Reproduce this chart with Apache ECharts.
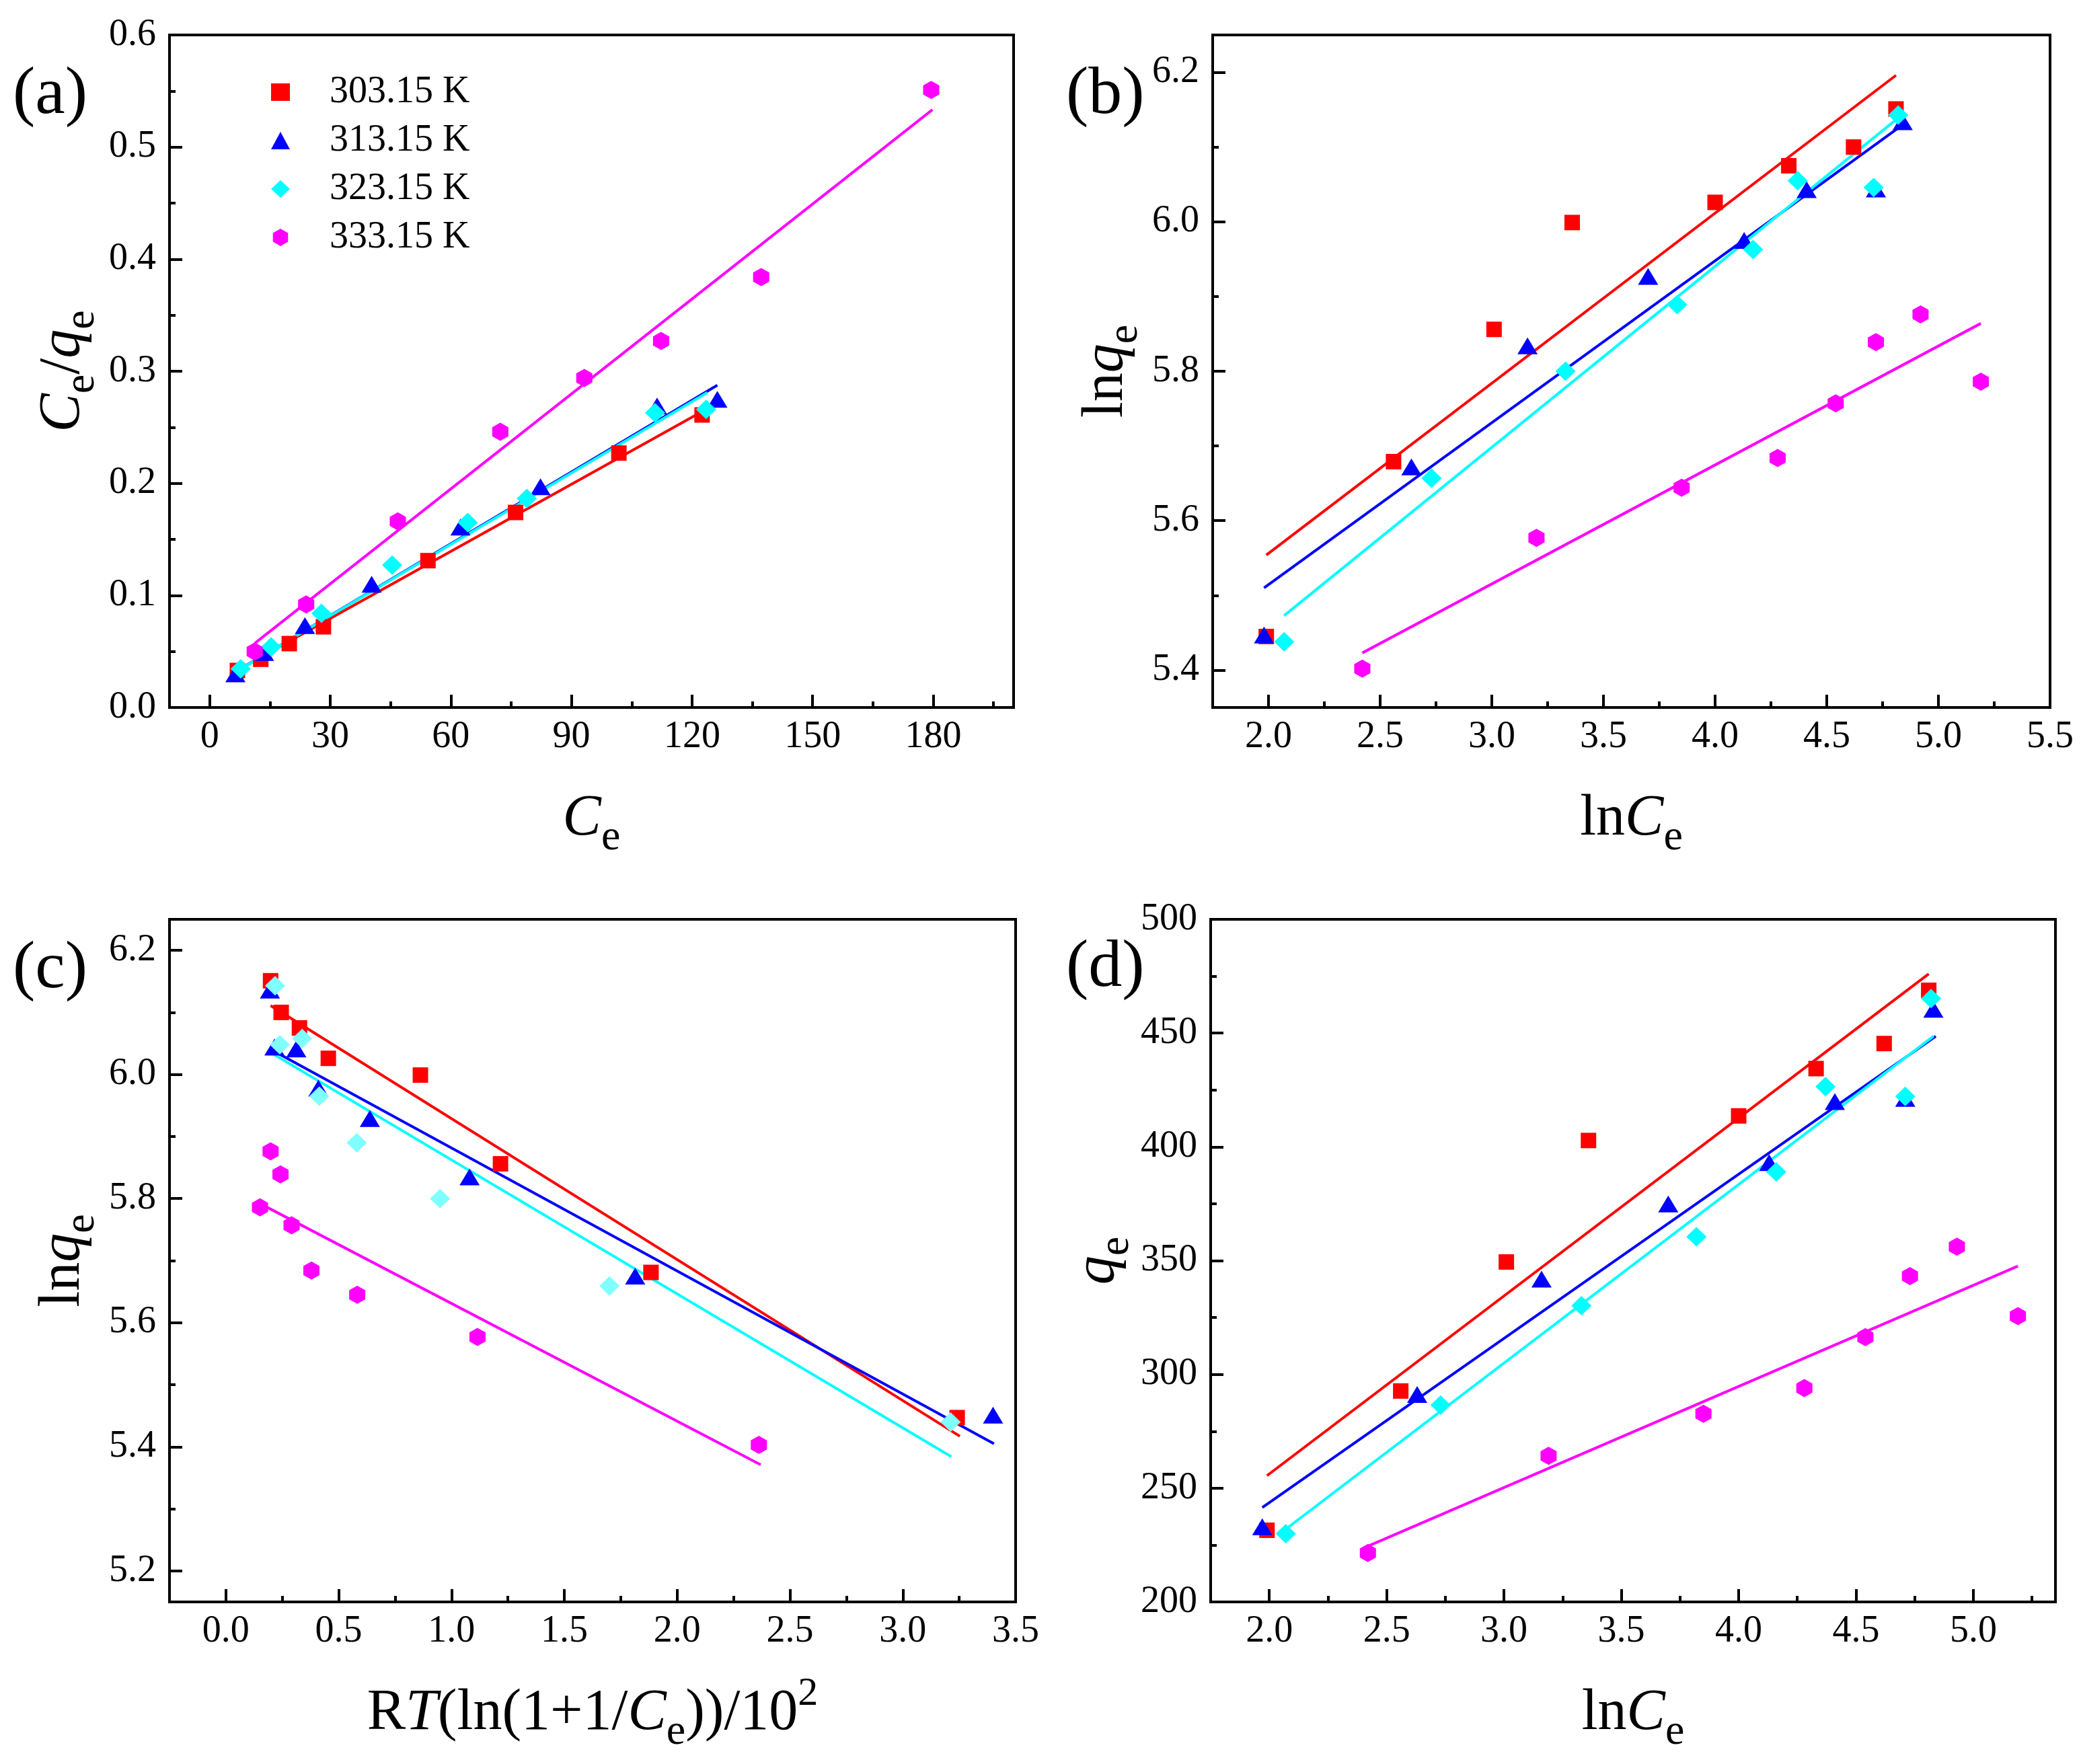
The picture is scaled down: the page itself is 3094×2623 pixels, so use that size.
<!DOCTYPE html>
<html>
<head>
<meta charset="utf-8">
<title>Isotherm fits</title>
<script src="https://cdn.jsdelivr.net/npm/echarts@6/dist/echarts.min.js"></script>
<style>
  html, body { margin: 0; padding: 0; background: #ffffff; }
  #chart { width: 3094px; height: 2623px; }
</style>
</head>
<body>
<div id="chart"></div>
<script>
const temps = ['303.15 K', '313.15 K', '323.15 K', '333.15 K'];

// (a) Ce vs Ce/qe
const aCe303 = [6.9, 12.7, 19.8, 28.3, 54.3, 76.1, 101.8, 122.5];
const aRatio303 = [0.033, 0.043, 0.057, 0.072, 0.131, 0.174, 0.227, 0.261];
const aCe313 = [6.4, 13.5, 23.7, 40.3, 62.4, 82.3, 111.3, 126.3];
const aRatio313 = [0.030, 0.049, 0.073, 0.110, 0.161, 0.197, 0.269, 0.275];
const aCe323 = [7.7, 15.3, 27.8, 45.4, 64.2, 78.9, 110.8, 123.5];
const aRatio323 = [0.0345, 0.054, 0.084, 0.127, 0.165, 0.1865, 0.263, 0.266];
const aCe333 = [11.2, 24.0, 46.8, 72.3, 93.2, 112.3, 137.2, 179.5];
const aRatio333 = [0.050, 0.092, 0.166, 0.246, 0.294, 0.327, 0.384, 0.551];
// fitted lines: [x0, y0, x1, y1]
const aFit303 = [6.5, 0.0325, 122.5, 0.264];
const aFit313 = [6.1, 0.031, 126.3, 0.2876];
const aFit323 = [7.7, 0.0345, 123.8, 0.281];
const aFit333 = [11.2, 0.0572, 179.8, 0.5333];

// (b) lnCe vs lnqe
const bLnC303 = [1.99, 2.56, 3.01, 3.36, 4.00, 4.33, 4.62, 4.81];
const bLnQ303 = [5.445, 5.679, 5.856, 5.999, 6.026, 6.075, 6.100, 6.151];
const bLnC313 = [1.98, 2.64, 3.16, 3.70, 4.13, 4.41, 4.72, 4.84];
const bLnQ313 = [5.447, 5.672, 5.834, 5.927, 5.975, 6.043, 6.044, 6.134];
const bLnC323 = [2.07, 2.73, 3.33, 3.83, 4.17, 4.37, 4.71, 4.82];
const bLnQ323 = [5.438, 5.657, 5.800, 5.889, 5.963, 6.055, 6.046, 6.143];
const bLnC333 = [2.42, 3.20, 3.85, 4.28, 4.54, 4.72, 4.92, 5.19];
const bLnQ333 = [5.402, 5.577, 5.644, 5.684, 5.757, 5.839, 5.876, 5.786];
const bFit303 = [1.99, 5.554, 4.81, 6.196];
const bFit313 = [1.98, 5.510, 4.85, 6.132];
const bFit323 = [2.07, 5.473, 4.82, 6.139];
const bFit333 = [2.42, 5.423, 5.19, 5.864];

// (c) RT ln(1+1/Ce)/10^2 vs lnqe
const cEps303 = [0.198, 0.245, 0.326, 0.454, 0.862, 1.217, 1.884, 3.241];
const cLnQ303 = [6.151, 6.100, 6.075, 6.026, 5.999, 5.856, 5.681, 5.447];
const cEps313 = [0.195, 0.215, 0.312, 0.410, 0.638, 1.080, 1.814, 3.400];
const cLnQ313 = [6.136, 6.044, 6.041, 5.978, 5.929, 5.835, 5.675, 5.451];
const cEps323 = [0.218, 0.239, 0.338, 0.414, 0.580, 0.949, 1.700, 3.212];
const cLnQ323 = [6.143, 6.048, 6.058, 5.965, 5.890, 5.800, 5.659, 5.440];
const cEps333 = [0.151, 0.198, 0.242, 0.291, 0.379, 0.582, 1.115, 2.362];
const cLnQ333 = [5.786, 5.876, 5.839, 5.757, 5.684, 5.645, 5.577, 5.403];
const cFit303 = [0.198, 6.111, 3.253, 5.417];
const cFit313 = [0.195, 6.041, 3.404, 5.405];
const cFit323 = [0.200, 6.035, 3.215, 5.384];
const cFit333 = [0.151, 5.792, 2.370, 5.371];

// (d) lnCe vs qe
const dLnC303 = [1.99, 2.56, 3.01, 3.36, 4.00, 4.33, 4.62, 4.81];
const dQ303 = [231.5, 292.7, 349.4, 402.8, 413.6, 434.4, 445.4, 468.8];
const dLnC313 = [1.97, 2.63, 3.16, 3.70, 4.13, 4.41, 4.71, 4.83];
const dQ313 = [233.0, 291.2, 341.9, 374.9, 393.1, 419.9, 421.3, 460.5];
const dLnC323 = [2.07, 2.73, 3.33, 3.82, 4.16, 4.37, 4.71, 4.82];
const dQ323 = [230.0, 286.5, 330.2, 360.5, 389.0, 426.5, 422.2, 465.2];
const dLnC333 = [2.42, 3.19, 3.85, 4.28, 4.54, 4.73, 4.93, 5.19];
const dQ333 = [221.5, 264.2, 282.7, 294.0, 316.4, 343.2, 356.1, 325.6];
const dFit303 = [1.99, 255.5, 4.81, 476.0];
const dFit313 = [1.97, 241.5, 4.84, 448.6];
const dFit323 = [2.07, 232.0, 4.83, 448.6];
const dFit333 = [2.42, 224.5, 5.19, 347.6];

// tick labels (major) and minor tick positions
const aXTicks = [0, 30, 60, 90, 120, 150, 180];
const aXMinor = [15, 45, 75, 105, 135, 165, 195];
const aYTicks = [0, 0.1, 0.2, 0.3, 0.4, 0.5, 0.6];
const aYMinor = [0.05, 0.15, 0.25, 0.35, 0.45, 0.55];
const bXTicks = [2.0, 2.5, 3.0, 3.5, 4.0, 4.5, 5.0, 5.5];
const bXMinor = [2.25, 2.75, 3.25, 3.75, 4.25, 4.75, 5.25];
const bYTicks = [5.4, 5.6, 5.8, 6.0, 6.2];
const bYMinor = [5.5, 5.7, 5.9, 6.1];
const cXTicks = [0.0, 0.5, 1.0, 1.5, 2.0, 2.5, 3.0, 3.5];
const cXMinor = [0.25, 0.75, 1.25, 1.75, 2.25, 2.75, 3.25];
const cYTicks = [5.2, 5.4, 5.6, 5.8, 6.0, 6.2];
const cYMinor = [5.3, 5.5, 5.7, 5.9, 6.1];
const dXTicks = [2.0, 2.5, 3.0, 3.5, 4.0, 4.5, 5.0];
const dXMinor = [2.25, 2.75, 3.25, 3.75, 4.25, 4.75, 5.25];
const dYTicks = [200, 250, 300, 350, 400, 450, 500];
const dYMinor = [225, 275, 325, 375, 425, 475];

const panelLabels = ['(a)', '(b)', '(c)', '(d)'];

const SERIF = '"Liberation Serif", "Times New Roman", serif';
const lineColors = ['#ff0000', '#0000ff', '#00ffff', '#ff00ff'];
const HEX = 'path://M0,-1L0.866,-0.5L0.866,0.5L0,1L-0.866,0.5L-0.866,-0.5Z';
const symbols = ['rect', 'triangle', 'diamond', HEX];
const symbolSizes = [[23, 23], [30, 25], [30, 29], [24, 27]];

const panels = [
    {
        grid: {left: 252, top: 52, width: 1255, height: 1000},
        x: {min: -10, max: 200, ticks: aXTicks, minor: aXMinor, digits: 0, name: '{i|C}{s|e}'},
        y: {min: 0, max: 0.6, ticks: aYTicks, minor: aYMinor, digits: 1, name: '{i|C}{s|e}{n|/}{i|q}{s|e}'},
        xs: [aCe303, aCe313, aCe323, aCe333],
        ys: [aRatio303, aRatio313, aRatio323, aRatio333],
        fits: [aFit303, aFit313, aFit323, aFit333],
        pointColors: ['#ff0000', '#0000ff', '#00ffff', '#ff00ff'],
        label: [19, 142]
    },
    {
        grid: {left: 1803, top: 52, width: 1245, height: 1000},
        x: {min: 1.75, max: 5.5, ticks: bXTicks, minor: bXMinor, digits: 1, name: '{n|ln}{i|C}{s|e}'},
        y: {min: 5.35, max: 6.25, ticks: bYTicks, minor: bYMinor, digits: 1, name: '{n|ln}{i|q}{s|e}'},
        xs: [bLnC303, bLnC313, bLnC323, bLnC333],
        ys: [bLnQ303, bLnQ313, bLnQ323, bLnQ333],
        fits: [bFit303, bFit313, bFit323, bFit333],
        pointColors: ['#ff0000', '#0000ff', '#00ffff', '#ff00ff'],
        label: [1585, 142]
    },
    {
        grid: {left: 252, top: 1367, width: 1258, height: 1015},
        x: {min: -0.25, max: 3.5, ticks: cXTicks, minor: cXMinor, digits: 1,
            name: '{n|R}{i|T}{n|(ln(1+1/}{i|C}{s|e}{n|))/10}{p|2}'},
        y: {min: 5.15, max: 6.25, ticks: cYTicks, minor: cYMinor, digits: 1, name: '{n|ln}{i|q}{s|e}'},
        xs: [cEps303, cEps313, cEps323, cEps333],
        ys: [cLnQ303, cLnQ313, cLnQ323, cLnQ333],
        fits: [cFit303, cFit313, cFit323, cFit333],
        pointColors: ['#ff0000', '#0000ff', '#80ffff', '#ff00ff'],
        label: [19, 1442]
    },
    {
        grid: {left: 1800, top: 1367, width: 1256, height: 1015},
        x: {min: 1.75, max: 5.35, ticks: dXTicks, minor: dXMinor, digits: 1, name: '{n|ln}{i|C}{s|e}'},
        y: {min: 200, max: 500, ticks: dYTicks, minor: dYMinor, digits: 0, name: '{i|q}{s|e}'},
        xs: [dLnC303, dLnC313, dLnC323, dLnC333],
        ys: [dQ303, dQ313, dQ323, dQ333],
        fits: [dFit303, dFit313, dFit323, dFit333],
        pointColors: ['#ff0000', '#0000ff', '#00ffff', '#ff00ff'],
        label: [1585, 1440]
    }
];

const nameRich = {
    n: {fontFamily: SERIF, fontSize: 86, color: '#000', verticalAlign: 'top', padding: [16, 0, 0, 0]},
    i: {fontFamily: SERIF, fontSize: 86, fontStyle: 'italic', color: '#000', verticalAlign: 'top', padding: [16, 0, 0, 0]},
    s: {fontFamily: SERIF, fontSize: 64, color: '#000', verticalAlign: 'top', padding: [55, 0, 0, 0]},
    p: {fontFamily: SERIF, fontSize: 60, color: '#000', verticalAlign: 'top', padding: [0, 0, 0, 0]}
};

function mainAxis(dim, gi, cfg) {
    return {
        type: 'value',
        gridIndex: gi,
        min: cfg.min,
        max: cfg.max,
        position: dim === 'x' ? 'bottom' : 'left',
        axisLine: {show: false, onZero: false},
        axisTick: {
            show: true, inside: true, length: 19, customValues: cfg.ticks,
            lineStyle: {color: '#000', width: 4}
        },
        axisLabel: {
            show: true, customValues: cfg.ticks, margin: dim === 'x' ? 16 : 20,
            color: '#000', fontSize: 56, fontFamily: SERIF,
            formatter: function (v) {
                return (+v).toFixed(cfg.digits);
            }
        },
        splitLine: {show: false},
        name: cfg.name,
        nameLocation: 'middle',
        nameGap: dim === 'x' ? 107 : 98,
        nameRotate: dim === 'x' ? 0 : 90,
        nameTextStyle: {fontFamily: SERIF, fontSize: 86, color: '#000', rich: nameRich}
    };
}

// second axis on the same edge, used only to draw the short minor ticks
function minorAxis(dim, gi, cfg) {
    return {
        type: 'value',
        gridIndex: gi,
        min: cfg.min,
        max: cfg.max,
        position: dim === 'x' ? 'bottom' : 'left',
        axisLine: {show: false, onZero: false},
        axisTick: {
            show: true, inside: true, length: 9, customValues: cfg.minor,
            lineStyle: {color: '#000', width: 4}
        },
        axisLabel: {show: false},
        splitLine: {show: false}
    };
}

const grids = [];
const xAxes = [];
const yAxes = [];
const series = [];
const graphics = [];

panels.forEach(function (p, k) {
    grids.push(Object.assign({
        show: true, borderColor: '#000', borderWidth: 4,
        backgroundColor: 'transparent', containLabel: false, outerBoundsMode: 'none'
    }, p.grid));
    xAxes[k] = mainAxis('x', k, p.x);
    yAxes[k] = mainAxis('y', k, p.y);
    xAxes[4 + k] = minorAxis('x', k, p.x);
    yAxes[4 + k] = minorAxis('y', k, p.y);

    for (let s = 0; s < 4; s++) {
        const f = p.fits[s];
        series.push({
            type: 'line',
            name: temps[s] + ' fit',
            xAxisIndex: k,
            yAxisIndex: k,
            data: [[f[0], f[1]], [f[2], f[3]]],
            symbol: 'none',
            showSymbol: false,
            silent: true,
            lineStyle: {color: lineColors[s], width: 4},
            z: 2
        });
    }
    for (let s = 0; s < 4; s++) {
        const xs = p.xs[s];
        const ys = p.ys[s];
        series.push({
            type: 'scatter',
            name: temps[s],
            xAxisIndex: k,
            yAxisIndex: k,
            data: xs.map(function (x, i) {
                return [x, ys[i]];
            }),
            symbol: symbols[s],
            symbolSize: symbolSizes[s],
            itemStyle: {color: p.pointColors[s], opacity: 1},
            z: 3 + s
        });
    }

    graphics.push({
        type: 'text',
        x: p.label[0],
        y: p.label[1],
        style: {
            text: panelLabels[k],
            font: '100px ' + SERIF,
            fill: '#000',
            align: 'left',
            verticalAlign: 'middle'
        }
    });
});

const myChart = echarts.init(document.getElementById('chart'), null, {renderer: 'canvas'});
const option = {
    backgroundColor: '#ffffff',
    animation: false,
    legend: {
        orient: 'vertical',
        left: 398,
        top: 104,
        itemWidth: 28,
        itemHeight: 26,
        itemGap: 16,
        selectedMode: false,
        data: temps,
        textStyle: {
            color: '#000',
            fontSize: 56,
            fontFamily: SERIF,
            lineHeight: 56,
            padding: [0, 0, 0, 54]
        }
    },
    grid: grids,
    xAxis: xAxes,
    yAxis: yAxes,
    graphic: graphics,
    series: series
};
myChart.setOption(option);
window.onresize = myChart.resize;
</script>
</body>
</html>
